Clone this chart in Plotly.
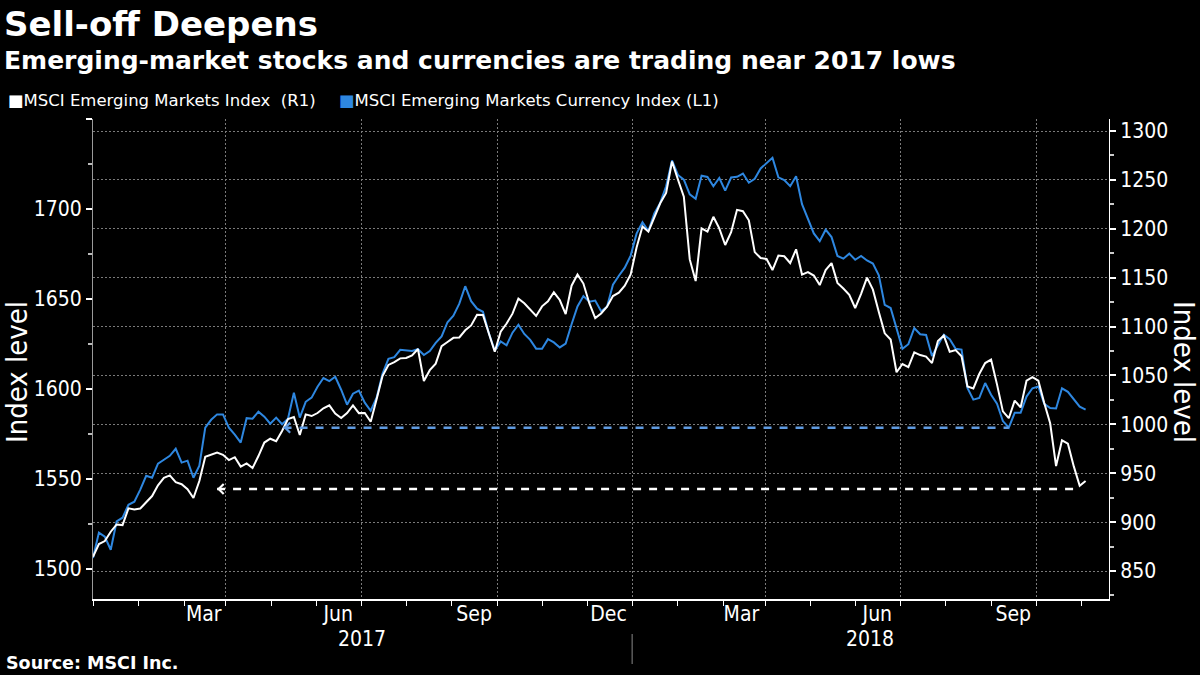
import pandas as pd
import plotly.graph_objects as go

# ---------------- data ----------------
start_date = "2016-12-01"
n_points = 169
dates = pd.date_range(start_date, periods=n_points, freq="4D")

# MSCI Emerging Markets Currency Index (left axis, blue)
currency_index = [
    1506.1, 1520.2, 1517.9, 1510.7, 1526.4, 1528.5, 1535.7, 1537.4, 1544.1, 1551.8,
    1550.7, 1558.5, 1560.7, 1562.9, 1566.8, 1559.1, 1560.2, 1550.7, 1557.4, 1578.5,
    1582.9, 1585.9, 1585.9, 1578.5, 1574.6, 1570.2, 1583.8, 1583.5, 1587.4, 1584.6,
    1580.7, 1584.1, 1580.4, 1583.5, 1597.9, 1584.1, 1592.9, 1595.2, 1601.3, 1606.1,
    1604.4, 1606.8, 1599.6, 1591.3, 1597.4, 1599.1, 1592.4, 1587.9, 1595.2, 1608.5,
    1616.8, 1617.7, 1621.8, 1621.3, 1621.1, 1622.1, 1618.9, 1621.1, 1625.6, 1629.2,
    1637.1, 1640.7, 1647.4, 1657.1, 1648.8, 1644.6, 1642.9, 1631.0, 1621.3, 1626.4,
    1624.3, 1631.3, 1635.7, 1630.6, 1627.3, 1622.4, 1622.4, 1627.7, 1625.9, 1623.1,
    1625.2, 1636.0, 1645.9, 1651.6, 1648.5, 1649.1, 1643.2, 1645.7, 1657.9, 1662.9,
    1667.4, 1674.1, 1686.3, 1692.7, 1687.7, 1697.6, 1703.4, 1712.6, 1727.0, 1718.9,
    1716.3, 1708.1, 1705.7, 1718.5, 1717.8, 1712.6, 1717.2, 1710.2, 1717.5, 1717.9,
    1719.7, 1714.6, 1716.8, 1722.5, 1725.3, 1728.5, 1717.6, 1716.1, 1712.7, 1718.2,
    1702.7, 1694.8, 1686.4, 1682.1, 1688.5, 1684.4, 1673.9, 1672.4, 1675.2, 1671.8,
    1673.9, 1671.4, 1669.7, 1663.1, 1646.7, 1645.0, 1634.3, 1622.3, 1624.9, 1633.8,
    1630.4, 1630.0, 1618.3, 1624.3, 1630.2, 1627.7, 1622.3, 1621.9, 1600.6, 1594.1,
    1595.0, 1603.3, 1596.8, 1591.8, 1582.2, 1578.5, 1586.8, 1586.8, 1595.8, 1600.4,
    1601.4, 1591.8, 1589.4, 1589.2, 1600.4, 1598.4, 1594.4, 1590.2, 1588.5,
]

# MSCI Emerging Markets Index (right axis, white)
stock_index = [
    864.6, 877.6, 880.7, 890.2, 897.6, 897.0, 914.1, 912.9, 913.9, 920.4,
    926.7, 937.7, 945.3, 947.8, 940.8, 938.8, 933.7, 924.7, 942.0, 966.8,
    969.0, 971.1, 968.9, 963.5, 966.4, 956.8, 960.0, 955.3, 967.6, 981.4,
    985.3, 982.7, 993.2, 1005.5, 1007.5, 989.1, 1010.2, 1008.5, 1011.6, 1016.4,
    1019.5, 1011.0, 1006.5, 1011.6, 1019.4, 1011.5, 1011.6, 1002.7, 1025.7, 1049.4,
    1060.8, 1063.7, 1067.5, 1067.9, 1070.6, 1077.1, 1044.3, 1055.4, 1062.1, 1080.0,
    1084.2, 1088.5, 1088.9, 1096.2, 1101.2, 1112.0, 1111.9, 1092.4, 1074.3, 1094.8,
    1103.2, 1113.2, 1128.6, 1123.9, 1117.9, 1110.9, 1120.7, 1125.8, 1135.1, 1127.2,
    1112.8, 1141.8, 1153.2, 1144.0, 1123.9, 1108.7, 1113.4, 1120.3, 1131.2, 1134.7,
    1141.8, 1153.3, 1180.8, 1202.4, 1197.1, 1212.0, 1226.1, 1236.6, 1268.8, 1250.4,
    1232.8, 1168.7, 1146.6, 1200.5, 1197.2, 1212.3, 1200.5, 1183.4, 1196.5, 1219.4,
    1218.0, 1208.7, 1176.2, 1170.1, 1169.1, 1157.8, 1172.6, 1171.9, 1165.0, 1179.0,
    1153.2, 1155.8, 1152.2, 1142.5, 1157.8, 1165.0, 1144.7, 1139.0, 1132.5, 1119.0,
    1133.5, 1150.1, 1137.8, 1114.9, 1093.1, 1086.8, 1053.3, 1061.7, 1058.6, 1073.6,
    1070.9, 1069.3, 1062.7, 1085.2, 1090.8, 1074.2, 1076.0, 1069.7, 1038.8, 1036.7,
    1051.5, 1062.7, 1066.3, 1040.9, 1013.3, 1006.3, 1024.3, 1017.3, 1044.6, 1048.2,
    1044.7, 1021.8, 1001.1, 957.4, 983.7, 980.3, 957.0, 937.1, 942.0,
]

# reference lines (2017 lows)
currency_low_level = 1578.5
currency_low_span = ["2017-04-09", "2018-08-13"]
stock_low_level = 933.9
stock_low_span = ["2017-02-23", "2018-09-30"]

# axis labels
month_label_dates = ["2017-02-14", "2017-05-16", "2017-08-16", "2017-11-15",
                     "2018-02-13", "2018-05-16", "2018-08-16"]
month_labels = ["Mar", "Jun", "Sep", "Dec", "Mar", "Jun", "Sep"]
grid_dates = ["2017-03-01", "2017-06-01", "2017-09-01", "2017-12-01",
              "2018-03-01", "2018-06-01", "2018-09-01"]
year_labels = ["2017", "2018"]
year_label_dates = ["2017-06-01", "2018-05-11"]
year_divider_date = "2017-12-01"

left_ticks = [1500, 1550, 1600, 1650, 1700, 1750]
left_ticktext = ["1500", "1550", "1600", "1650", "1700", ""]
left_minor = [1525, 1575, 1625, 1675, 1725]
right_ticks = [850, 900, 950, 1000, 1050, 1100, 1150, 1200, 1250, 1300]
right_minor = [825, 875, 925, 975, 1025, 1075, 1125, 1175, 1225, 1275]

title = "Sell-off Deepens"
subtitle = "Emerging-market stocks and currencies are trading near 2017 lows"
legend_stock = "MSCI Emerging Markets Index  (R1)"
legend_currency = "MSCI Emerging Markets Currency Index (L1)"
source = "Source: MSCI Inc."
axis_title = "Index level"

# ---------------- styling ----------------
BLUE = "#2e87e0"
BLUE_DASH = "#5f9ae0"
GRID = "#7a7a7a"
FONT = "DejaVu Sans Condensed, DejaVu Sans, sans-serif"
FONT_WIDE = "DejaVu Sans, sans-serif"
x_range = ["2016-12-01", "2018-10-19 20:00"]

fig = go.Figure()
fig.add_trace(go.Scatter(x=dates, y=currency_index, mode="lines",
                         line=dict(color=BLUE, width=2), xaxis="x", yaxis="y",
                         name=legend_currency))
fig.add_trace(go.Scatter(x=dates, y=stock_index, mode="lines",
                         line=dict(color="white", width=2), xaxis="x", yaxis="y2",
                         name=legend_stock))
fig.add_trace(go.Scatter(x=currency_low_span, y=[currency_low_level] * 2, mode="lines",
                         line=dict(color=BLUE_DASH, width=2.5, dash="8px,8px"),
                         xaxis="x2", yaxis="y", hoverinfo="skip"))
fig.add_trace(go.Scatter(x=stock_low_span, y=[stock_low_level] * 2, mode="lines",
                         line=dict(color="white", width=2.5, dash="8px,8px"),
                         xaxis="x", yaxis="y2", hoverinfo="skip"))


def px_x(px):
    return (px - 93) / 1016


def px_y(py):
    return (599 - py) / 480


annotations = [
    dict(text=f"<b>{title}</b>", x=px_x(2), y=px_y(24), font=dict(size=34)),
    dict(text=f"<b>{subtitle}</b>", x=px_x(2), y=px_y(60), font=dict(size=25)),
    dict(text=f"<span style='color:white'>■</span>{legend_stock}", x=px_x(6), y=px_y(100),
         font=dict(size=16.5)),
    dict(text=f"<span style='color:{BLUE}'>■</span>{legend_currency}", x=px_x(337), y=px_y(100),
         font=dict(size=16.5)),
    dict(text=f"<b>{source}</b>", x=px_x(4), y=px_y(663), font=dict(size=17.5)),
]
for a in annotations:
    a.update(xref="paper", yref="paper", xanchor="left", yanchor="middle",
             showarrow=False)
    a["font"].update(color="white", family=FONT_WIDE)

annotations += [
    dict(text=axis_title, x=px_x(17), y=px_y(372), xref="paper", yref="paper",
         xanchor="center", yanchor="middle",
         textangle=-90, showarrow=False, font=dict(size=29, color="white", family=FONT)),
    dict(text=axis_title, x=px_x(1184), y=px_y(372), xref="paper", yref="paper",
         xanchor="center", yanchor="middle",
         textangle=90, showarrow=False, font=dict(size=29, color="white", family=FONT)),
]
for d, t in zip(year_label_dates, year_labels):
    annotations.append(dict(text=t, x=d, xref="x", y=px_y(639), yref="paper",
                            xanchor="center", yanchor="middle",
                            showarrow=False, font=dict(size=21, color="white", family=FONT)))
# chevrons at the left end of the reference lines
annotations.append(dict(text="", x=stock_low_span[0], y=stock_low_level, xref="x", yref="y2",
                        showarrow=True, arrowhead=4, arrowsize=1.3, arrowwidth=1.5,
                        arrowcolor="white", ax=8, ay=0))
annotations.append(dict(text="", x=currency_low_span[0], y=currency_low_level, xref="x", yref="y",
                        showarrow=True, arrowhead=4, arrowsize=1.3, arrowwidth=1.5,
                        arrowcolor=BLUE_DASH, ax=8, ay=0))

fig.update_layout(
    width=1200, height=675,
    paper_bgcolor="black", plot_bgcolor="black",
    margin=dict(l=93, r=91, t=119, b=76),
    showlegend=False,
    hovermode=False,
    font=dict(family=FONT, color="white", size=21),
    annotations=annotations,
    shapes=[dict(type="line", xref="x", yref="paper", x0=year_divider_date, x1=year_divider_date,
                 y0=px_y(634), y1=px_y(664), line=dict(color="#888", width=1))],
    xaxis=dict(range=x_range, type="date", tickvals=grid_dates, showticklabels=False,
               ticks="outside", ticklen=5, tickcolor="white",
               showgrid=True, gridcolor=GRID, griddash="2px,2px", gridwidth=1,
               showline=True, linecolor="white", linewidth=1.5, zeroline=False,
               minor=dict(dtick="M1", tick0="2016-12-01", ticks="outside", ticklen=5,
                          tickcolor="white", showgrid=False)),
    xaxis2=dict(overlaying="x", anchor="y", side="bottom", range=x_range, type="date",
                tickvals=month_label_dates, ticktext=month_labels, ticks="",
                showgrid=False, showline=False, zeroline=False,
                tickfont=dict(size=21, color="white", family=FONT)),
    yaxis=dict(range=[1483.33, 1750], tickvals=left_ticks, ticktext=left_ticktext,
               ticks="outside", ticklen=6, tickwidth=2, tickcolor="white",
               showgrid=False, showline=True, linecolor="#9a9a9a", zeroline=False,
               tickfont=dict(size=21, color="white", family=FONT),
               minor=dict(tickvals=left_minor, ticks="outside", ticklen=4, tickcolor="#bbbbbb",
                          showgrid=False)),
    yaxis2=dict(overlaying="y", side="right", anchor="x", range=[821.4, 1312.3],
                tickvals=right_ticks, ticks="outside", ticklen=6, tickwidth=2, tickcolor="white",
                showgrid=True, gridcolor=GRID, griddash="2px,2px", gridwidth=1,
                showline=True, linecolor="white", zeroline=False,
                tickfont=dict(size=21, color="white", family=FONT),
                minor=dict(tickvals=right_minor, ticks="outside", ticklen=4, tickcolor="#cccccc",
                           showgrid=False)),
)

fig.write_html("out.html", config={"displayModeBar": False},
               post_script="document.body.style.margin='0';")
